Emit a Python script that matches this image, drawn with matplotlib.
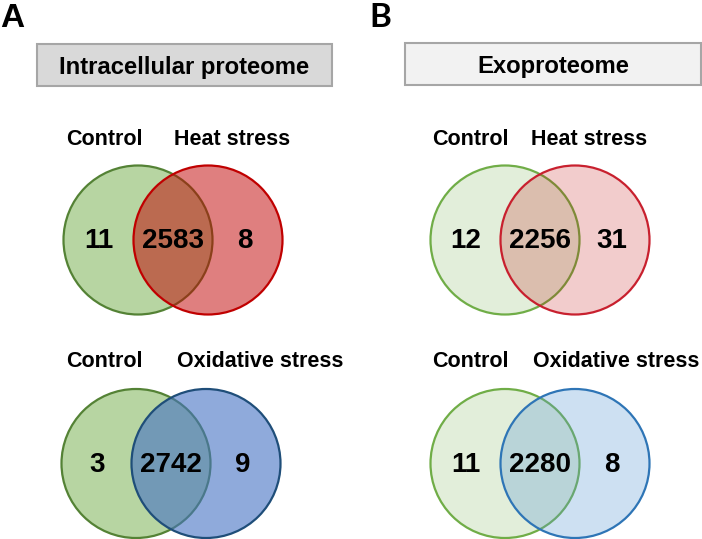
import matplotlib
matplotlib.use("Agg")
import matplotlib.pyplot as plt
from matplotlib.patches import Circle, Rectangle

# data
panel_letters = ["A", "B"]
headers = ["Intracellular proteome", "Exoproteome"]
stress_names = ["Heat stress", "Oxidative stress"]
only_control = [[11, 3], [12, 11]]     # [panel][row]
shared = [[2583, 2742], [2256, 2280]]
only_stress = [[8, 9], [31, 8]]

# layout in pixel units (figure is 702 x 539)
W, H = 702, 539
panel_x = [0, 369]
box_x = [(37, 332), (405, 701)]
box_y = [(44, 86), (43, 85)]
box_fill = ["#d9d9d9", "#f2f2f2"]
cx_left = [[138, 136], [505, 505]]
cx_right = [[208, 206], [575, 575]]
cy = [240, 463.5]
label_base = [145, 367]
ctrl_right = [143, 509]
stress_left = [[174, 177], [531, 533]]
R = 74.5

# (left face, alpha, right face, alpha, left edge, right edge) per panel/row
styles = [
    [("#70ad47", 0.50, "#c00000", 0.50, "#548235", "#c00000"),
     ("#70ad47", 0.50, "#4472c4", 0.60, "#548235", "#1f4e79")],
    [("#70ad47", 0.20, "#c00000", 0.20, "#70ad47", "#c8202e"),
     ("#70ad47", 0.20, "#5b9bd5", 0.30, "#70ad47", "#2e75b6")],
]

FONT = "Liberation Sans"

fig = plt.figure(figsize=(W / 100, H / 100), dpi=100)
ax = fig.add_axes([0, 0, 1, 1])
ax.set_xlim(0, W)
ax.set_ylim(H, 0)
ax.set_aspect("equal")
ax.axis("off")

for p in range(2):
    ax.text(panel_x[p], 27, panel_letters[p], fontsize=24, fontweight="bold",
            family=FONT if p == 0 else "Lato", ha="left", va="baseline")
    x0, x1 = box_x[p]
    y0, y1 = box_y[p]
    ax.add_patch(Rectangle((x0, y0), x1 - x0, y1 - y0, facecolor=box_fill[p],
                           edgecolor="#a6a6a6", linewidth=1.5))
    ax.text((x0 + x1) / 2, 74 - p, headers[p], fontsize=17.2, fontweight="bold",
            family=FONT, ha="center", va="baseline")

    for r in range(2):
        lf, la, rf, ra, le, re = styles[p][r]
        xl, xr, y = cx_left[p][r], cx_right[p][r], cy[r]
        ax.add_patch(Circle((xl, y), R, facecolor=matplotlib.colors.to_rgba(lf, la),
                            edgecolor=le, linewidth=1.6))
        ax.add_patch(Circle((xr, y), R, facecolor=matplotlib.colors.to_rgba(rf, ra),
                            edgecolor=re, linewidth=1.6))

        ax.text(ctrl_right[p], label_base[r], "Control", fontsize=15.5,
                fontweight="bold", family=FONT, ha="right", va="baseline")
        ax.text(stress_left[p][r], label_base[r], stress_names[r], fontsize=15.5,
                fontweight="bold", family=FONT, ha="left", va="baseline")

        nb = y + 8
        ax.text(xl - 39, nb, str(only_control[p][r]), fontsize=20, fontweight="bold",
                family=FONT, ha="center", va="baseline")
        ax.text((xl + xr) / 2, nb, str(shared[p][r]), fontsize=20, fontweight="bold",
                family=FONT, ha="center", va="baseline")
        ax.text(xr + 37, nb, str(only_stress[p][r]), fontsize=20, fontweight="bold",
                family=FONT, ha="center", va="baseline")

fig.savefig("out.png", dpi=100)
